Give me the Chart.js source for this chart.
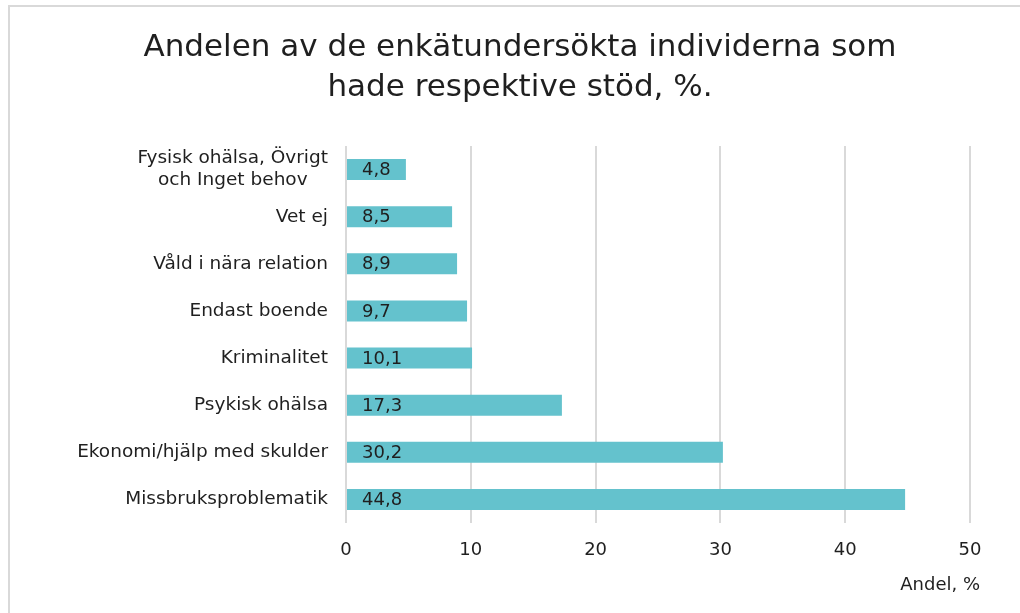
<!DOCTYPE html>
<html>
<head>
<meta charset="utf-8">
<script src="https://cdn.jsdelivr.net/npm/chart.js@4/dist/chart.umd.min.js"></script>
<style>
  html, body { margin: 0; padding: 0; background: #fff; overflow: hidden; }
  #frame {
    position: absolute; left: 8px; top: 5px; width: 1030px; height: 640px;
    border: 2px solid #d9d9d9; box-sizing: border-box;
  }
  #wrap { position: absolute; left: 0; top: 0; width: 1020px; height: 613px; }
</style>
</head>
<body>
<div id="frame"></div>
<div id="wrap"><canvas id="chart"></canvas></div>
<script>
const categories = [
  ["Fysisk ohälsa, Övrigt", "och Inget behov"],
  "Vet ej",
  "Våld i nära relation",
  "Endast boende",
  "Kriminalitet",
  "Psykisk ohälsa",
  "Ekonomi/hjälp med skulder",
  "Missbruksproblematik"
]
const values = [4.8, 8.5, 8.9, 9.7, 10.1, 17.3, 30.2, 44.8]
const xTicks = [0, 10, 20, 30, 40, 50]
const titleLines = ["Andelen av de enkätundersökta individerna som", "hade respektive stöd, %."]
const axisTitle = "Andel, %"

const FONT = "'DejaVu Sans', sans-serif"
const TEXT = "#1f1f1f"

// title, value labels, category labels (centered lines, right-aligned block), axis title
const extraText = {
  id: "extraText",
  afterDatasetsDraw(chart) {
    const ctx = chart.ctx
    const meta = chart.getDatasetMeta(0)
    const yScale = chart.scales.y
    ctx.save()
    ctx.fillStyle = TEXT
    ctx.textBaseline = "middle"

    ctx.font = "31px " + FONT
    ctx.textAlign = "center"
    titleLines.forEach((l, k) => ctx.fillText(l, 520, 48 + k * 40))

    ctx.font = "18px " + FONT
    ctx.textAlign = "left"
    meta.data.forEach((bar, i) => {
      const text = values[i].toFixed(1).replace(".", ",")
      ctx.fillText(text, bar.base + 15, bar.y + 1)
    })

    ctx.font = "18.5px " + FONT
    ctx.textAlign = "center"
    const right = yScale.right - 18
    const lineH = 22
    categories.forEach((label, i) => {
      const lines = Array.isArray(label) ? label : [label]
      const w = Math.max(...lines.map(l => ctx.measureText(l).width))
      const cy = yScale.getPixelForTick(i)
      lines.forEach((l, k) => {
        const y = cy + (k - (lines.length - 1) / 2) * lineH
        ctx.fillText(l, right - w / 2, y)
      })
    })

    ctx.font = "18px " + FONT
    ctx.textAlign = "right"
    ctx.fillText(axisTitle, chart.scales.x.right + 10, 585)
    ctx.restore()
  }
}

new Chart(document.getElementById("chart"), {
  type: "bar",
  data: {
    labels: categories,
    datasets: [{
      data: values,
      backgroundColor: "#64c2cd",
      borderWidth: 0,
      barPercentage: 0.445,
      categoryPercentage: 1.0
    }]
  },
  options: {
    indexAxis: "y",
    responsive: true,
    maintainAspectRatio: false,
    animation: false,
    layout: { padding: { left: 0, right: 50, top: 146, bottom: 50 } },
    plugins: {
      legend: { display: false },
      tooltip: { enabled: false },
      title: { display: false }
    },
    scales: {
      x: {
        min: 0,
        max: 50,
        afterBuildTicks: (scale) => { scale.ticks = xTicks.map(v => ({ value: v })) },
        afterFit: (scale) => { scale.height = 40 },
        grid: { color: "#d9d9d9", lineWidth: 2, drawTicks: false },
        border: { display: false },
        ticks: { font: { family: FONT, size: 18 }, color: TEXT, padding: 17, maxRotation: 0 }
      },
      y: {
        grid: { display: false },
        border: { display: false },
        afterFit: (scale) => { scale.width = 346 },
        ticks: { color: "rgba(0,0,0,0)", font: { family: FONT, size: 16 } }
      }
    }
  },
  plugins: [extraText]
})
</script>
</body>
</html>
